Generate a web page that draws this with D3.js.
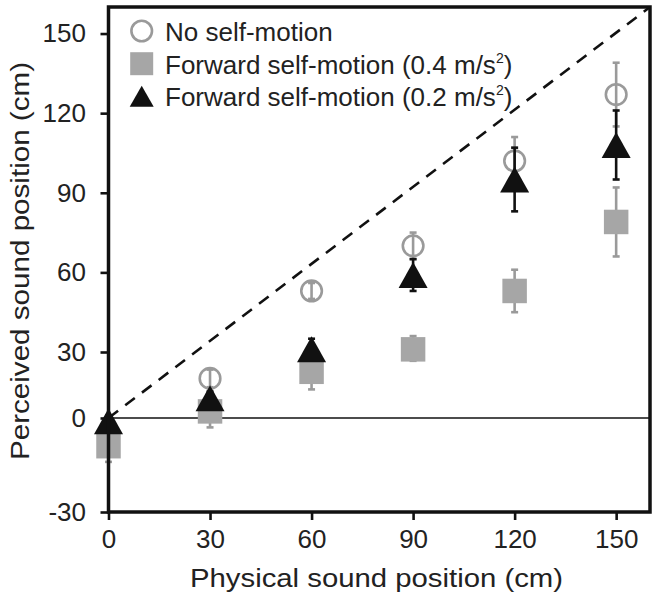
<!DOCTYPE html>
<html>
<head>
<meta charset="utf-8">
<script src="https://cdn.jsdelivr.net/npm/d3@7"></script>
<style>
  html, body { margin: 0; padding: 0; background: #fff; }
  svg { display: block; font-family: "Liberation Sans", Arial, sans-serif; }
</style>
</head>
<body>
<svg id="chart" width="658" height="601"></svg>
<script>
// ---- data ----
const positions = [0, 30, 60, 90, 120, 150];
const noMotion = [null, 18, 53, 70, 102, 127];
const noMotionErr = [0, 4, 3, 5, 9, 12];
const fwd04 = [-9, 3, 21, 31, 53, 79];
const fwd04Err = [5, 6, 8, 5, 8, 13];
const fwd02 = [-1, 9, 31, 59, 95, 108];
const fwd02Err = [2, 3, 4, 6, 12, 13];
const xTicks = [0, 30, 60, 90, 120, 150];
const yTicks = [-30, 0, 30, 60, 90, 120, 150];
const legendLabels = ["No self-motion", "Forward self-motion (0.4 m/s", "Forward self-motion (0.2 m/s"];
const xTitle = "Physical sound position (cm)";
const yTitle = "Perceived sound position (cm)";

const svg = d3.select("#chart");
const L = 108.5, R = 650, T = 7, B = 512;

const x = d3.scaleLinear().domain([0, 160]).range([L, R]);
const y = d3.scaleLinear().domain([-30, 0, 30, 160]).range([B, 418, 352, T]);

// custom symbols (bbox-centred)
const triType = (w, h) => ({ draw(ctx) { ctx.moveTo(0, -h / 2); ctx.lineTo(w / 2, h / 2); ctx.lineTo(-w / 2, h / 2); ctx.closePath(); } });
const sqType = (s) => ({ draw(ctx) { ctx.rect(-s / 2, -s / 2, s, s); } });

// zero line
svg.append("line").attr("x1", L).attr("x2", R).attr("y1", y(0)).attr("y2", y(0))
  .attr("stroke", "#111").attr("stroke-width", 1.4);

// identity dashed line
svg.append("line").attr("x1", x(0)).attr("y1", y(0)).attr("x2", x(160)).attr("y2", y(160))
  .attr("stroke", "#111").attr("stroke-width", 2.6).attr("stroke-dasharray", "12,9");

// axes
const fs = 26;
const yAxis = d3.axisLeft(y).tickValues(yTicks).tickSize(8).tickPadding(14.5).tickFormat(d => String(d));
const gy = svg.append("g").attr("transform", `translate(${L},0)`).call(yAxis);
gy.select(".domain").remove();
gy.selectAll(".tick line").attr("stroke", "#111").attr("stroke-width", 2.6);
gy.selectAll(".tick text").attr("font-size", fs).attr("fill", "#222").attr("font-family", "Liberation Sans, Arial, sans-serif");

const xAxis = d3.axisBottom(x).tickValues(xTicks).tickSize(8).tickPadding(10).tickFormat(d => String(d));
const gx = svg.append("g").attr("transform", `translate(0,${B})`).call(xAxis);
gx.select(".domain").remove();
gx.selectAll(".tick line").attr("stroke", "#111").attr("stroke-width", 2.6);
gx.selectAll(".tick text").attr("font-size", fs).attr("fill", "#222").attr("font-family", "Liberation Sans, Arial, sans-serif");

// error bars helper
function errBars(vals, errs, color) {
  const g = svg.append("g");
  positions.forEach((p, i) => {
    const e = errs[i];
    if (!e || vals[i] == null) return;
    const cx = x(p), y1 = y(vals[i] + e), y2 = y(vals[i] - e);
    g.append("line").attr("x1", cx).attr("x2", cx).attr("y1", y1).attr("y2", y2)
      .attr("stroke", color).attr("stroke-width", 2.6);
    [y1, y2].forEach(yy => g.append("line").attr("x1", cx - 3.5).attr("x2", cx + 3.5)
      .attr("y1", yy).attr("y2", yy).attr("stroke", color).attr("stroke-width", 2.6));
  });
}

// series: circles
errBars(noMotion, noMotionErr, "#9a9a9a");
svg.append("g").selectAll("circle")
  .data(positions.map((p, i) => [p, noMotion[i]]).filter(d => d[1] != null)).join("circle")
  .attr("cx", d => x(d[0])).attr("cy", d => y(d[1])).attr("r", 10.3)
  .attr("fill", "none").attr("stroke", "#9a9a9a").attr("stroke-width", 2.6);

// squares
errBars(fwd04, fwd04Err, "#9a9a9a");
svg.append("g").selectAll("path").data(positions).join("path")
  .attr("transform", (d, i) => `translate(${x(d)},${y(fwd04[i])})`)
  .attr("d", d3.symbol().type(sqType(24.5))())
  .attr("fill", "#a6a6a6");

// triangles
errBars(fwd02, fwd02Err, "#111");
svg.append("g").selectAll("path").data(positions).join("path")
  .attr("transform", (d, i) => `translate(${x(d)},${y(fwd02[i])})`)
  .attr("d", d3.symbol().type(triType(29, 26))())
  .attr("fill", "#111");

// frame
svg.append("rect").attr("x", L).attr("y", T).attr("width", R - L).attr("height", B - T)
  .attr("fill", "none").attr("stroke", "#111").attr("stroke-width", 3.5);

// legend
const lg = svg.append("g");
const lx = 141.7, ly = [31, 63.7, 96.3];
lg.append("circle").attr("cx", lx).attr("cy", ly[0]).attr("r", 10.3)
  .attr("fill", "none").attr("stroke", "#9a9a9a").attr("stroke-width", 2.6);
lg.append("path").attr("transform", `translate(${lx},${ly[1]})`)
  .attr("d", d3.symbol().type(sqType(23))()).attr("fill", "#a6a6a6");
lg.append("path").attr("transform", `translate(${lx},${ly[2]})`)
  .attr("d", d3.symbol().type(triType(24, 21))()).attr("fill", "#111");
legendLabels.forEach((t, i) => {
  const txt = lg.append("text").attr("x", 165).attr("y", ly[i] + 10)
    .attr("font-size", fs).attr("fill", "#222").text(t);
  if (i > 0) {
    txt.append("tspan").attr("font-size", 14).attr("dy", -11).text("2");
    txt.append("tspan").attr("dy", 11).text(")");
  }
});

// axis titles
svg.append("text").attr("x", 376.5).attr("y", 587).attr("text-anchor", "middle")
  .attr("font-size", 25.5).attr("fill", "#222")
  .attr("textLength", 373).attr("lengthAdjust", "spacingAndGlyphs").text(xTitle);
svg.append("text").attr("transform", `translate(29,261) rotate(-90)`).attr("text-anchor", "middle")
  .attr("font-size", 25.5).attr("fill", "#222")
  .attr("textLength", 398).attr("lengthAdjust", "spacingAndGlyphs").text(yTitle);
</script>
</body>
</html>
